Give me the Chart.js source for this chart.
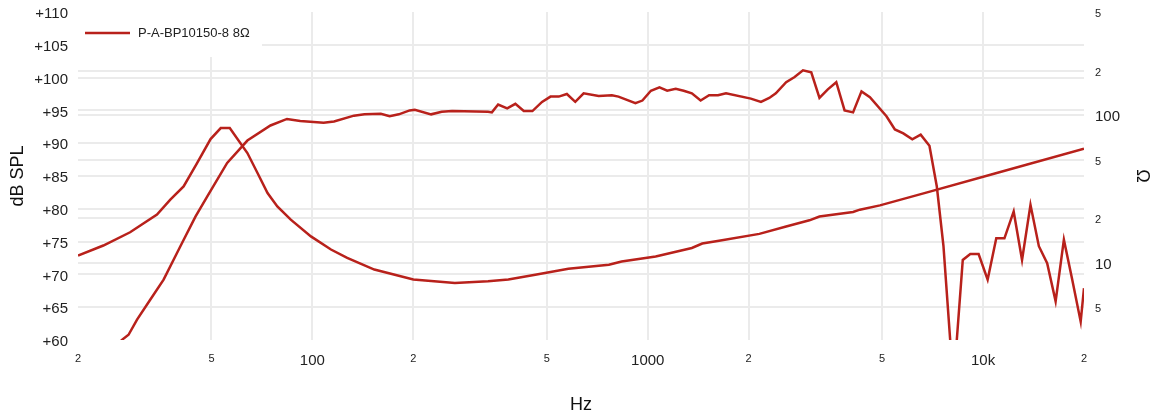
<!DOCTYPE html>
<html>
<head>
<meta charset="utf-8">
<script src="https://cdn.jsdelivr.net/npm/chart.js@4/dist/chart.umd.min.js"></script>
<style>
  html, body { margin: 0; padding: 0; background: #fff; }
</style>
</head>
<body>
<canvas id="chart" width="1153" height="419"></canvas>
<script>
// SPL response (dB)
const splFreq = [20, 25, 27, 28.3, 30, 32.8, 36, 40.4, 44.8, 48.6, 55.7, 64, 75, 84, 92, 108, 116, 133, 143, 160,
  170, 181, 195, 202, 226, 243, 261, 334, 343, 358, 381, 403, 427, 453, 484, 513, 543, 574, 608, 644,
  714, 782, 818, 919, 964, 1022, 1084, 1143, 1212, 1280, 1354, 1438, 1524, 1620, 1712, 2030, 2176, 2304, 2410, 2587,
  2742, 2904, 3074, 3252, 3444, 3650, 3864, 4096, 4340, 4598, 5152, 5458, 5784, 6152, 6516, 6920, 7280, 7620, 7980, 8150,
  8350, 8700, 9160, 9700, 10320, 10950, 11580, 12340, 13070, 13850, 14670, 15530, 16460, 17420, 18450, 19550, 20000];
const splDb = [50, 57.5, 60, 60.8, 63.1, 66.1, 69.2, 74.3, 78.8, 81.9, 87.0, 90.4, 92.7, 93.7, 93.4, 93.1, 93.3, 94.2, 94.4, 94.5,
  94.1, 94.4, 95.0, 95.1, 94.4, 94.8, 94.9, 94.8, 94.7, 95.9, 95.3, 96.0, 94.9, 94.9, 96.3, 97.1, 97.1, 97.5, 96.3, 97.6,
  97.2, 97.3, 97.1, 96.1, 96.5, 98.0, 98.5, 98.0, 98.3, 98.0, 97.6, 96.5, 97.3, 97.3, 97.6, 96.8, 96.3, 96.9, 97.6, 99.3,
  100.1, 101.1, 100.8, 96.9, 98.2, 99.3, 95.0, 94.7, 97.9, 97.0, 94.1, 92.1, 91.5, 90.6, 91.3, 89.6, 83.4, 74.3, 60, 52,
  60, 72.2, 73.1, 73.1, 69.2, 75.5, 75.5, 79.6, 72.2, 80.6, 74.3, 71.7, 65.9, 75.3, 69.2, 62.8, 67.9];

// impedance (ohm)
const impFreq = [20, 23.8, 28.6, 34.4, 37.7, 41.3, 45.3, 49.7, 53.3, 56.7, 64, 68.6, 73.5, 78.6, 86.2, 99, 113.6, 127, 153, 200,
  266, 334, 384, 462, 580, 766, 836, 1056, 1354, 1454, 1632, 2152, 2587, 3035, 3252, 4096, 4292, 4926, 6812, 10780, 20000];
const impOhm = [11.2, 13.1, 16.1, 21.2, 26.8, 32.9, 47.4, 68.9, 81.8, 81.8, 55.4, 40.6, 29.7, 24.1, 19.6, 15.1, 12.3, 10.8, 9.0, 7.7,
  7.3, 7.5, 7.7, 8.3, 9.1, 9.7, 10.2, 11.05, 12.6, 13.5, 14.1, 15.7, 17.6, 19.4, 20.6, 22.1, 22.9, 24.5, 30.0, 40.1, 59.3];

const freqTicks = [20, 50, 100, 200, 500, 1000, 2000, 5000, 10000, 20000];
const freqTickLabels = ['2', '5', '100', '2', '5', '1000', '2', '5', '10k', '2'];
const ohmTicks = [5, 10, 20, 50, 100, 200, 500];
const ohmTickLabels = ['5', '10', '2', '5', '100', '2', '5'];

const RED = '#b8211b';
const GRID = '#ebebeb';
const decades = [10, 100, 1000, 10000];

Chart.defaults.font.family = "'Liberation Sans', Arial, Helvetica, sans-serif";
Chart.defaults.color = '#222';

// legend drawn inside the plot, on a white patch
const insideLegend = {
  id: 'insideLegend',
  beforeDatasetsDraw(chart) {
    const { ctx, chartArea } = chart;
    const ds = chart.data.datasets[0];
    ctx.save();
    ctx.fillStyle = '#fff';
    ctx.fillRect(chartArea.left, chartArea.top, 184, 45);
    ctx.strokeStyle = ds.borderColor;
    ctx.lineWidth = ds.borderWidth;
    ctx.beginPath();
    ctx.moveTo(chartArea.left + 7, chartArea.top + 21);
    ctx.lineTo(chartArea.left + 52, chartArea.top + 21);
    ctx.stroke();
    ctx.fillStyle = '#222';
    ctx.font = "13px 'Liberation Sans', Arial, sans-serif";
    ctx.textBaseline = 'middle';
    ctx.fillText(ds.label, chartArea.left + 60, chartArea.top + 21);
    ctx.restore();
  }
};

const edgeGrid = (edges) => (ctx) => (ctx.tick && edges.includes(ctx.tick.value)) ? 'rgba(0,0,0,0)' : GRID;

// fixed axis boxes so the plot area lands where the original has it
const fixBox = (w, h) => (s) => {
  if (w) s.width = w;
  if (h) s.height = h;
  s.paddingTop = 0;
  s.paddingBottom = 0;
  s.paddingLeft = 0;
  s.paddingRight = 0;
};

new Chart(document.getElementById('chart'), {
  type: 'line',
  data: {
    datasets: [
      {
        label: 'P-A-BP10150-8 8Ω',
        data: splFreq.map((f, i) => ({ x: f, y: splDb[i] })),
        yAxisID: 'y',
        borderColor: RED,
        borderWidth: 2.5,
        pointRadius: 0,
        tension: 0,
      },
      {
        label: 'Impedance',
        data: impFreq.map((f, i) => ({ x: f, y: impOhm[i] })),
        yAxisID: 'y2',
        borderColor: RED,
        borderWidth: 2.5,
        pointRadius: 0,
        tension: 0,
      },
    ],
  },
  options: {
    responsive: false,
    animation: false,
    devicePixelRatio: 1,
    layout: { padding: { top: 12 } },
    plugins: {
      legend: { display: false },
      tooltip: { enabled: false },
    },
    scales: {
      x: {
        type: 'logarithmic',
        min: 20,
        max: 20000,
        afterBuildTicks: (s) => { s.ticks = freqTicks.map((v) => ({ value: v })); },
        afterFit: fixBox(0, 79),
        border: { display: false },
        grid: { color: edgeGrid([20, 20000]), lineWidth: 2, drawTicks: false },
        ticks: {
          padding: 12,
          maxRotation: 0,
          autoSkip: false,
          font: (ctx) => ({ size: decades.includes(ctx.tick && ctx.tick.value) ? 15 : 11 }),
          callback: (v, i) => freqTickLabels[i],
        },
        title: { display: true, text: 'Hz', font: { size: 18 }, color: '#111', padding: { top: 4, bottom: 3 } },
      },
      y: {
        position: 'left',
        min: 60,
        max: 110,
        afterFit: fixBox(78, 0),
        border: { display: false },
        grid: { color: edgeGrid([60, 110]), lineWidth: 2, drawTicks: false },
        ticks: { stepSize: 5, padding: 10, labelOffset: 2, font: { size: 15 }, callback: (v) => '+' + v },
        title: { display: true, text: 'dB SPL', font: { size: 18 }, color: '#111', padding: { top: 7, bottom: 0 } },
      },
      y2: {
        type: 'logarithmic',
        position: 'right',
        min: 3,
        max: 500,
        afterBuildTicks: (s) => { s.ticks = ohmTicks.map((v) => ({ value: v })); },
        afterFit: fixBox(69, 0),
        border: { display: false },
        grid: { color: edgeGrid([500]), lineWidth: 2, drawTicks: false },
        ticks: {
          padding: 11,
          labelOffset: 2,
          autoSkip: false,
          font: (ctx) => ({ size: [10, 100].includes(ctx.tick && ctx.tick.value) ? 15 : 11 }),
          callback: (v, i) => ohmTickLabels[i],
        },
        title: { display: true, text: 'Ω', font: { size: 18 }, color: '#111', padding: { top: 0, bottom: 0 } },
      },
    },
  },
  plugins: [insideLegend],
});
</script>
</body>
</html>
